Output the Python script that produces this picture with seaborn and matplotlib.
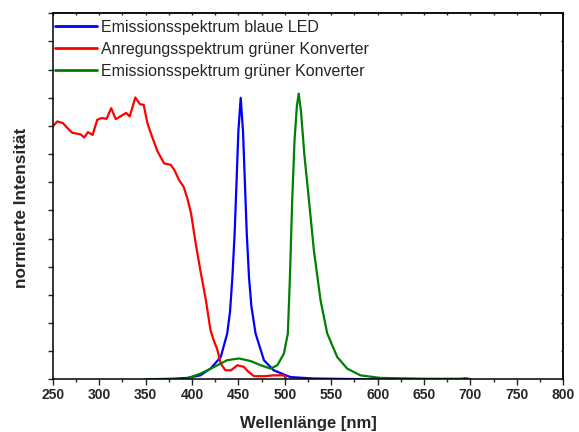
import matplotlib
matplotlib.use("Agg")
import matplotlib.pyplot as plt
import seaborn as sns
import pandas as pd
import numpy as np
from matplotlib.ticker import MultipleLocator, NullFormatter

# --- data ---
red_label = "Anregungsspektrum grüner Konverter"
red_x = [250, 255, 261, 266, 271, 280, 284, 288, 293, 298, 303, 308, 313, 318, 323, 329,
         333, 339, 344, 348, 352, 357, 363, 370, 377, 381, 386, 391, 395, 399, 404, 409,
         415, 420, 424, 427, 431, 436, 442, 449, 456, 461, 467, 478, 488, 499, 501]
red_y = [0.898, 0.916, 0.910, 0.892, 0.876, 0.870, 0.859, 0.878, 0.868, 0.922, 0.928, 0.925,
         0.963, 0.924, 0.934, 0.946, 0.934, 1.001, 0.977, 0.975, 0.910, 0.862, 0.809, 0.767,
         0.762, 0.744, 0.708, 0.684, 0.643, 0.590, 0.483, 0.388, 0.281, 0.174, 0.133, 0.109,
         0.056, 0.032, 0.032, 0.050, 0.044, 0.026, 0.011, 0.011, 0.014, 0.014, 0.005]

blue_label = "Emissionsspektrum blaue LED"
blue_x = [350, 380, 395, 409, 420, 431, 438, 441, 443.5, 446, 448, 450, 452.5, 455, 457,
          459, 461.5, 464, 468.5, 477.5, 488, 506, 530, 570, 620, 700]
blue_y = [0.0, 0.002, 0.005, 0.014, 0.038, 0.079, 0.163, 0.24, 0.36, 0.52, 0.70, 0.88, 1.0,
          0.88, 0.70, 0.52, 0.36, 0.26, 0.163, 0.068, 0.032, 0.008, 0.003, 0.001, 0.0, 0.0]

green_label = "Emissionsspektrum grüner Konverter"
green_x = [350, 392, 409, 424, 438, 450.6, 463, 474, 484.7, 492, 499, 503.3, 505.5, 508,
           510.5, 513, 515, 517.5, 521, 526, 531.3, 538.5, 545.7, 556.5, 567.2, 581.5, 603,
           650, 690, 695, 700]
green_y = [0.0, 0.0, 0.02, 0.044, 0.068, 0.074, 0.065, 0.05, 0.038, 0.05, 0.091, 0.163,
           0.36, 0.637, 0.85, 0.97, 1.015, 0.95, 0.80, 0.637, 0.459, 0.281, 0.163, 0.079,
           0.038, 0.014, 0.005, 0.002, 0.002, 0.004, 0.0]

x_ticks = [250, 300, 350, 400, 450, 500, 550, 600, 650, 700, 750, 800]
x_label = "Wellenlänge [nm]"
y_label = "normierte Intensität"

# --- build table ---
df = pd.concat([
    pd.DataFrame({"x": blue_x, "y": blue_y, "s": blue_label}),
    pd.DataFrame({"x": red_x, "y": red_y, "s": red_label}),
    pd.DataFrame({"x": green_x, "y": green_y, "s": green_label}),
], ignore_index=True)

sns.set_style("ticks")
plt.rcParams["font.family"] = ["Liberation Sans", "DejaVu Sans"]

fig = plt.figure(figsize=(5.79, 4.32), dpi=100)
ax = fig.add_axes([52.7 / 579, 1 - 379.3 / 432, (563.3 - 52.7) / 579, (379.3 - 13.3) / 432])

palette = {blue_label: "#0000ff", red_label: "#ff0000", green_label: "#008000"}
sns.lineplot(data=df, x="x", y="y", hue="s", palette=palette, sort=False,
             estimator=None, linewidth=1.6, ax=ax,
             hue_order=[blue_label, red_label, green_label])

ax.set_xlim(250, 800)
ax.set_ylim(0, 1.3)
ax.set_xticks(x_ticks)
ax.xaxis.set_minor_locator(MultipleLocator(25))
ax.yaxis.set_major_locator(MultipleLocator(0.1))
ax.yaxis.set_major_formatter(NullFormatter())

for s in ax.spines.values():
    s.set_linewidth(1.1)
    s.set_color("black")

ax.tick_params(axis="x", which="major", direction="out", length=4.5, width=1.0,
               labelsize=10, pad=1.5, bottom=True, top=False)
ax.tick_params(axis="x", which="minor", direction="out", length=2.5, width=1.0,
               bottom=True, top=False)
ax.tick_params(axis="y", which="major", direction="out", length=3.5, width=1.0,
               left=True, right=False)
for lab in ax.get_xticklabels():
    lab.set_fontweight("bold")

# top / right short inward ticks
top = ax.secondary_xaxis("top")
top.set_xticks(np.arange(250, 801, 25))
top.tick_params(direction="in", length=1.5, width=1.0, labeltop=False)
top.xaxis.set_major_formatter(NullFormatter())
top.spines["top"].set_linewidth(1.1)
right = ax.secondary_yaxis("right")
right.set_yticks(np.arange(0, 1.31, 0.1))
right.tick_params(direction="in", length=1.5, width=1.0, labelright=False)
right.yaxis.set_major_formatter(NullFormatter())
right.spines["right"].set_linewidth(1.1)

ax.set_xlabel(x_label, fontsize=12, fontweight="bold", labelpad=10)
ax.set_ylabel(y_label, fontsize=12.3, fontweight="bold")
ax.yaxis.set_label_coords(-0.047, 0.469)

leg = ax.legend(loc="upper left", bbox_to_anchor=(0.0, 0.988), frameon=False,
                fontsize=11.5, handlelength=2.6, handletextpad=0.25,
                labelspacing=0.42, borderaxespad=0.0, borderpad=0.15)
for line in leg.get_lines():
    line.set_linewidth(2.0)

fig.savefig("out.png", dpi=100)
